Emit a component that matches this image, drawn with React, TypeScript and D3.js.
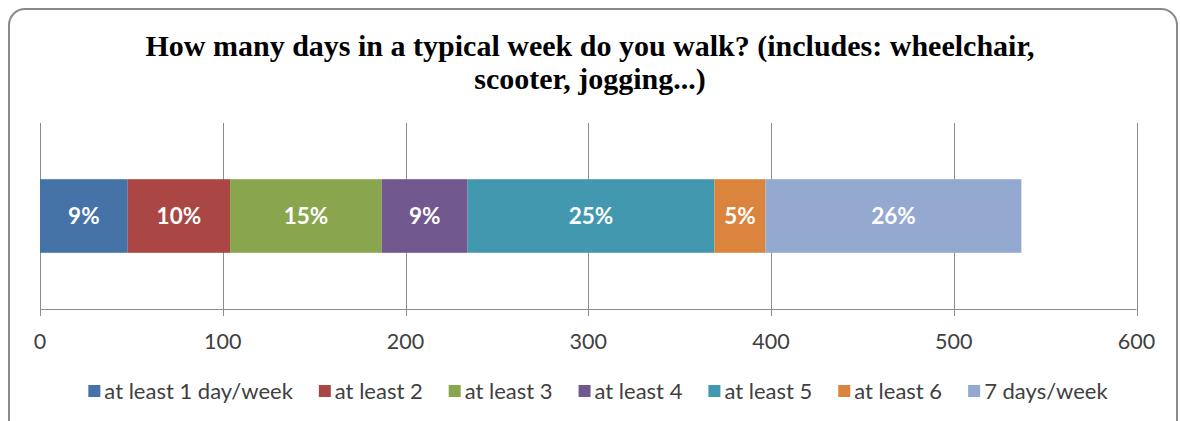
import React, { useEffect, useRef } from "react";
import * as d3 from "d3";

const categories = ["at least 1 day/week", "at least 2", "at least 3", "at least 4", "at least 5", "at least 6", "7 days/week"];
const values = [48, 56, 83, 47, 135, 28, 140];
const colors = ["#4572A7", "#AA4643", "#89A54E", "#71588F", "#4198AF", "#DB843D", "#93A9CF"];
const xTicks = [0, 100, 200, 300, 400, 500, 600];
const titleLines = ["How many days in a typical week do you walk? (includes: wheelchair,", "scooter, jogging...)"];

const W = 1180;
const H = 421;

export default function App() {
  const ref = useRef<SVGSVGElement>(null);
  useEffect(() => {
    const svg = d3.select(ref.current);
    svg.selectAll("*").remove();
    const sansFont = "Lato, 'Open Sans', sans-serif";

    // chart border
    svg.append("rect").attr("x", 9).attr("y", 9).attr("width", 1168).attr("height", 440)
      .attr("rx", 16).attr("fill", "#fff").attr("stroke", "#8a8a8a").attr("stroke-width", 2);

    // title
    svg.append("g").selectAll("text").data(titleLines).join("text")
      .attr("x", 590).attr("y", (d, i) => 56 + i * 33)
      .attr("text-anchor", "middle")
      .attr("font-family", "'Liberation Serif', 'DejaVu Serif', serif")
      .attr("font-weight", "bold").attr("font-size", 30).attr("fill", "#000")
      .text(d => d);

    const x = d3.scaleLinear().domain([0, 600]).range([40, 1136.5]);
    const y = d3.scaleBand().domain(["walk"]).range([123, 309]).paddingInner(0.433).paddingOuter(0.433);
    const plotTop = 123, plotBottom = 309;

    // gridlines
    svg.append("g").selectAll("line").data(xTicks).join("line")
      .attr("x1", d => Math.round(x(d)) + 0.5).attr("x2", d => Math.round(x(d)) + 0.5)
      .attr("y1", plotTop).attr("y2", plotBottom + 7)
      .attr("stroke", "#8c8c8c").attr("stroke-width", 1);
    // axis line
    svg.append("line").attr("x1", x(0)).attr("x2", x(600)).attr("y1", plotBottom + 0.5).attr("y2", plotBottom + 0.5)
      .attr("stroke", "#8c8c8c").attr("stroke-width", 1);

    // stacked bar
    const stack: { key: string; v0: number; v1: number; c: string; v: number }[] = [];
    let acc = 0;
    values.forEach((v, i) => { stack.push({ key: categories[i], v0: acc, v1: acc + v, c: colors[i], v }); acc += v; });
    const total = acc;
    const g = svg.append("g");
    g.selectAll("rect").data(stack).join("rect")
      .attr("x", d => x(d.v0)).attr("width", d => x(d.v1) - x(d.v0))
      .attr("y", y("walk")!).attr("height", y.bandwidth())
      .attr("fill", d => d.c);
    g.selectAll("text").data(stack).join("text")
      .attr("x", d => (x(d.v0) + x(d.v1)) / 2).attr("y", y("walk")! + y.bandwidth() / 2 + 8)
      .attr("text-anchor", "middle").attr("font-family", sansFont).attr("font-weight", "bold")
      .attr("font-size", 22.5).attr("fill", "#fff")
      .text(d => `${Math.round((d.v / total) * 100)}%`);

    // tick labels
    svg.append("g").selectAll("text").data(xTicks).join("text")
      .attr("x", d => x(d)).attr("y", 349)
      .attr("text-anchor", "middle").attr("font-family", sansFont)
      .attr("font-size", 21.5).attr("fill", "#404040")
      .text(d => String(d));

    // legend
    const lg = svg.append("g");
    const items = categories.map((c, i) => {
      const t = lg.append("text").attr("font-family", sansFont).attr("font-size", 22).attr("fill", "#404040")
        .attr("y", 399).text(c);
      const w = (t.node() as SVGTextElement).getComputedTextLength();
      return { t, w, i };
    });
    const box = 12, gapBox = 4, gapItem = 26;
    const totalW = d3.sum(items, d => box + gapBox + d.w) + gapItem * (items.length - 1);
    let cx = 598 - totalW / 2;
    items.forEach(it => {
      lg.append("rect").attr("x", cx).attr("y", 385).attr("width", box).attr("height", box).attr("fill", colors[it.i]);
      it.t.attr("x", cx + box + gapBox);
      cx += box + gapBox + it.w + gapItem;
    });
  }, []);
  return (
    <svg ref={ref} width={W} height={H} style={{ position: "absolute", left: 0, top: 0, background: "#fff" }} />
  );
}
